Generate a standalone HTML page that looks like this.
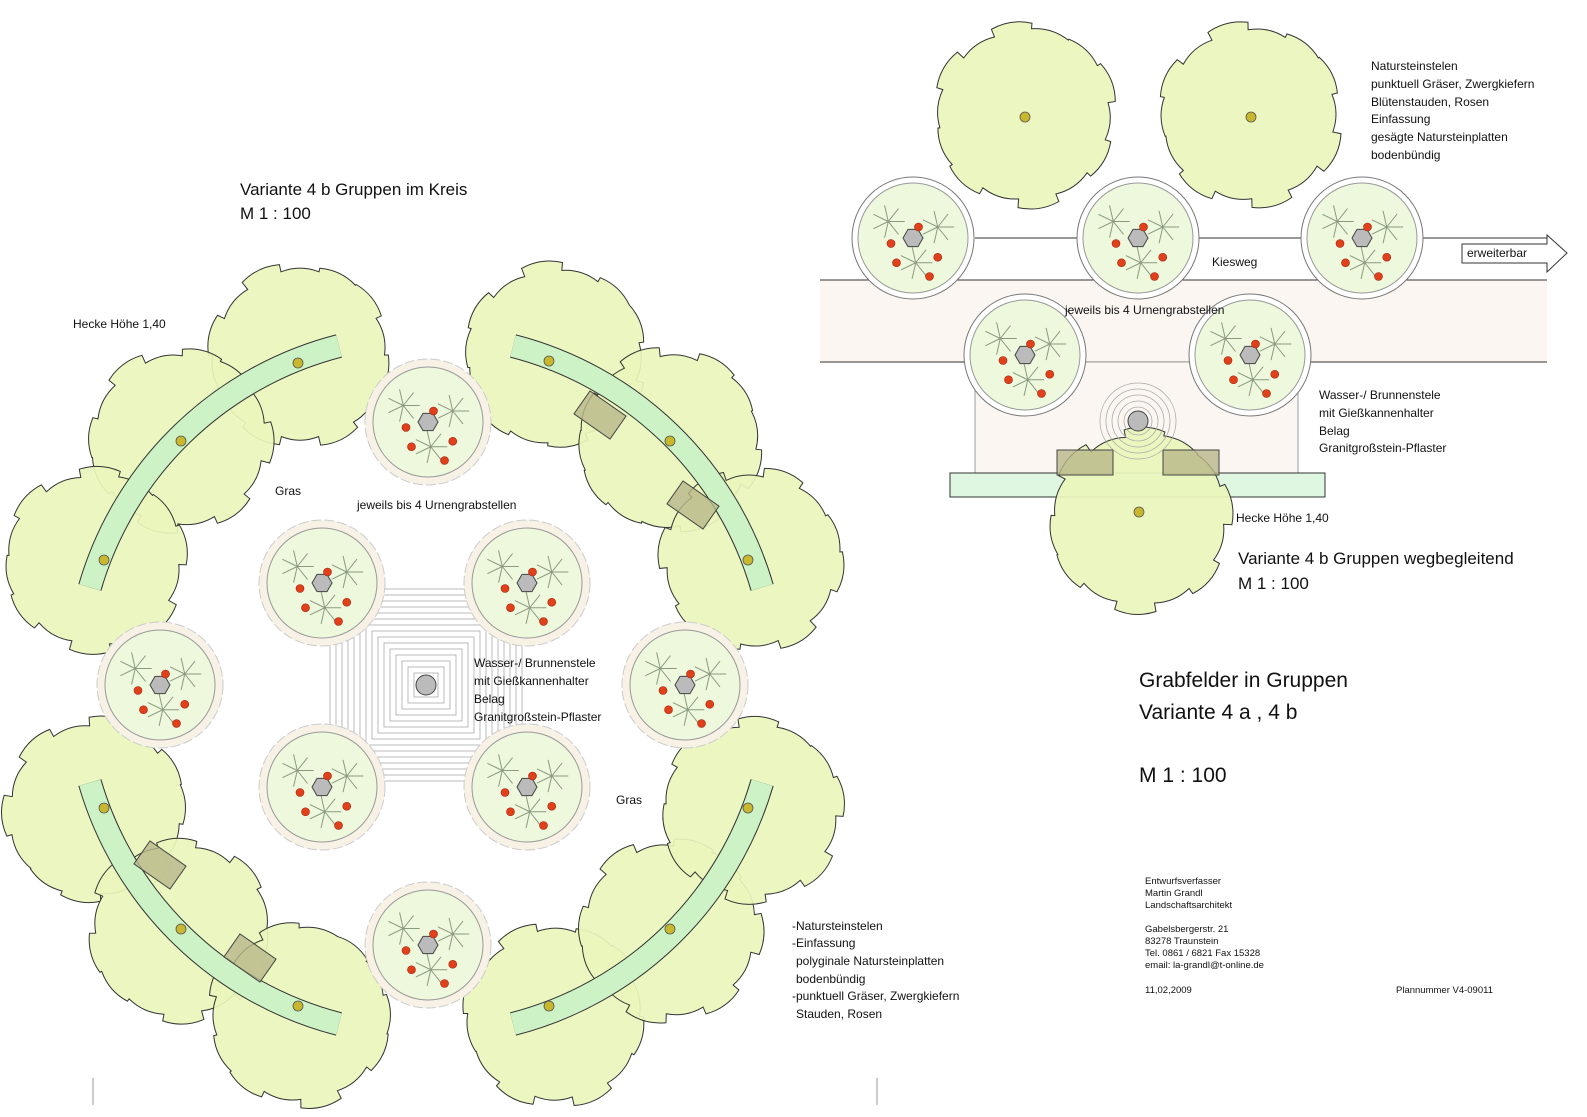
<!DOCTYPE html>
<html><head><meta charset="utf-8"><style>
html,body{margin:0;padding:0;background:#fff;}
svg{display:block;}
text{font-family:"Liberation Sans",sans-serif;fill:#111;}
</style></head><body>
<svg id="s" width="1587" height="1117" viewBox="0 0 1587 1117" xmlns="http://www.w3.org/2000/svg">
<rect width="1587" height="1117" fill="#fff"/>
<rect x="820" y="280" width="727" height="82" fill="#fbf6f2"/>
<line x1="820" y1="280" x2="1547" y2="280" stroke="#333" stroke-width="1"/>
<line x1="820" y1="362" x2="1547" y2="362" stroke="#333" stroke-width="1"/>
<rect x="975" y="362" width="323" height="111" fill="#fbf6f2" stroke="#888" stroke-width="0.8"/>
<line x1="975" y1="238" x2="1547" y2="238" stroke="#333" stroke-width="1"/>
<g id="g"></g>
<text x="240" y="195" font-size="17">Variante 4 b   Gruppen im Kreis</text>
<text x="240" y="219" font-size="17">M  1  :  100</text>
<text x="73" y="328" font-size="12">Hecke  Höhe  1,40</text>
<text x="275" y="495" font-size="12">Gras</text>
<text x="357" y="509" font-size="12">jeweils  bis 4 Urnengrabstellen</text>
<text x="474" y="667" font-size="12">Wasser-/ Brunnenstele</text>
<text x="474" y="685" font-size="12">mit Gießkannenhalter</text>
<text x="474" y="703" font-size="12">Belag</text>
<text x="474" y="721" font-size="12">Granitgroßstein-Pflaster</text>
<text x="616" y="804" font-size="12">Gras</text>
<g font-size="12">
<text x="792" y="930">-Natursteinstelen</text>
<text x="792" y="947">-Einfassung</text>
<text x="796" y="965">polyginale Natursteinplatten</text>
<text x="796" y="983">bodenbündig</text>
<text x="792" y="1000">-punktuell Gräser, Zwergkiefern</text>
<text x="796" y="1018">Stauden, Rosen</text>
</g>
<g font-size="12">
<text x="1371" y="70">Natursteinstelen</text>
<text x="1371" y="88">punktuell Gräser, Zwergkiefern</text>
<text x="1371" y="106">Blütenstauden, Rosen</text>
<text x="1371" y="123">Einfassung</text>
<text x="1371" y="141">gesägte Natursteinplatten</text>
<text x="1371" y="159">bodenbündig</text>
<text x="1212" y="266">Kiesweg</text>
<text x="1065" y="314">jeweils  bis 4 Urnengrabstellen</text>
<text x="1319" y="399">Wasser-/ Brunnenstele</text>
<text x="1319" y="417">mit Gießkannenhalter</text>
<text x="1319" y="435">Belag</text>
<text x="1319" y="452">Granitgroßstein-Pflaster</text>
<text x="1236" y="522">Hecke  Höhe  1,40</text>
</g>
<text x="1238" y="564" font-size="17">Variante  4 b    Gruppen wegbegleitend</text>
<text x="1238" y="589" font-size="17">M  1  :  100</text>
<text x="1139" y="687" font-size="21">Grabfelder   in Gruppen</text>
<text x="1139" y="719" font-size="21">Variante  4 a ,    4 b</text>
<text x="1139" y="782" font-size="21">M  1  :  100</text>
<g font-size="9.5">
<text x="1145" y="884">Entwurfsverfasser</text>
<text x="1145" y="896">Martin Grandl</text>
<text x="1145" y="908">Landschaftsarchitekt</text>
<text x="1145" y="932">Gabelsbergerstr. 21</text>
<text x="1145" y="944">83278 Traunstein</text>
<text x="1145" y="956">Tel. 0861 / 6821 Fax 15328</text>
<text x="1145" y="968">email: la-grandl@t-online.de</text>
<text x="1145" y="993">11,02,2009</text>
<text x="1396" y="993">Plannummer V4-09011</text>
</g>
<path d="M1462,244 H1547 V235 L1567,253 L1547,272 V263 H1462 Z" fill="#fff" stroke="#333"/>
<text x="1467" y="257" font-size="12">erweiterbar</text>
<line x1="93" y1="1078" x2="93" y2="1105" stroke="#999"/>
<line x1="877" y1="1078" x2="877" y2="1105" stroke="#999"/>
</svg>
<script>
var NS="http://www.w3.org/2000/svg",g=document.getElementById('g');
function el(t,a){var e=document.createElementNS(NS,t);for(var k in a)e.setAttribute(k,a[k]);g.appendChild(e);return e;}
function tree(cx,cy,r,seed){var p=[],n=14;for(var i=0;i<n;i++){var a0=i/n*Math.PI*2+seed,a1=(i+1)/n*Math.PI*2+seed;var am=(a0+a1)/2;var rr=r*(0.96+0.05*Math.sin(i*3.7+seed));
p.push((i?'L':'M')+(cx+rr*Math.cos(a0)).toFixed(1)+','+(cy+rr*Math.sin(a0)).toFixed(1));
p.push('Q'+(cx+rr*1.06*Math.cos(am)).toFixed(1)+','+(cy+rr*1.06*Math.sin(am)).toFixed(1)+' '+(cx+rr*Math.cos(a1)).toFixed(1)+','+(cy+rr*Math.sin(a1)).toFixed(1));}
el('path',{d:p.join(' ')+'Z',fill:'#e9f5bb','fill-opacity':'0.92',stroke:'#333','stroke-width':'1'});}
function dot(x,y){el('circle',{cx:x,cy:y,r:5,fill:'#c9b72e',stroke:'#555','stroke-width':'0.8'});}
function star(x,y,s){for(var i=0;i<7;i++){var a=i/7*Math.PI*2;el('line',{x1:x,y1:y,x2:x+s*Math.cos(a),y2:y+s*Math.sin(a),stroke:'#8a9a80','stroke-width':'1'});}}
function plot(cx,cy,r,type){
 if(type==='stone'){el('circle',{cx:cx,cy:cy,r:r+8,fill:'#f7f1e6',stroke:'#ccc','stroke-width':'1','stroke-dasharray':'10 3'});}
 else{el('circle',{cx:cx,cy:cy,r:r+6,fill:'#fff',stroke:'#777','stroke-width':'1'});}
 el('circle',{cx:cx,cy:cy,r:r,fill:'#eef8dc',stroke:'#999','stroke-width':'1'});
 star(cx-r*0.45,cy-r*0.3,r*0.3);star(cx+r*0.45,cy-r*0.2,r*0.3);star(cx+r*0.05,cy+r*0.45,r*0.3);
 el('polygon',{points:[0,1,2,3,4,5].map(function(i){var a=i/6*Math.PI*2;return (cx+10*Math.cos(a))+','+(cy+10*Math.sin(a));}).join(' '),fill:'#bbb',stroke:'#444'});
 [[-0.4,0.1],[-0.3,0.45],[0.45,0.35],[0.3,0.7],[0.1,-0.2]].forEach(function(o){el('circle',{cx:cx+o[0]*r,cy:cy+o[1]*r,r:4,fill:'#e0401a',stroke:'#a02010','stroke-width':'0.6'});});
}
var C=[426,685];
for(var s=12;s<=100;s+=6){el('rect',{x:C[0]-s,y:C[1]-s,width:2*s,height:2*s,fill:s==12?'#fff':'none',stroke:'#aaa','stroke-width':'0.8'});}
el('circle',{cx:426,cy:685,r:10,fill:'#bbb',stroke:'#444'});
[[300,355],[180,440],[95,560],[555,355],[670,440],[752,560],[95,810],[180,930],[300,1015],[555,1015],[670,930],[752,810]].forEach(function(t,i){tree(t[0],t[1],92,i*0.7);});
function arc(a0,a1){var R=350,x0=C[0]+R*Math.cos(a0),y0=C[1]+R*Math.sin(a0),x1=C[0]+R*Math.cos(a1),y1=C[1]+R*Math.sin(a1);
 var d='M'+x0+','+y0+' A'+R+','+R+' 0 0 1 '+x1+','+y1;
 el('path',{d:d,fill:'none',stroke:'#333','stroke-width':'24'});el('path',{d:d,fill:'none',stroke:'#cdf2c6','stroke-width':'22'});}
var P=Math.PI;
arc(P*1.09,P*1.42);arc(P*1.58,P*1.91);arc(P*0.58,P*0.91);arc(P*0.09,P*0.42);
[[298,363],[181,441],[104,560],[549,361],[670,441],[748,560],[104,808],[181,929],[298,1006],[549,1006],[670,929],[748,808]].forEach(function(d){dot(d[0],d[1]);});
[[600,415],[693,505],[160,865],[250,958]].forEach(function(b){el('rect',{x:b[0]-22,y:b[1]-14,width:44,height:28,fill:'#b8b88a','fill-opacity':'0.8',stroke:'#444',transform:'rotate(35 '+b[0]+' '+b[1]+')'});});
[[428,422],[428,945],[160,685],[685,685],[322,583],[527,583],[322,787],[527,787]].forEach(function(p){plot(p[0],p[1],55,'stone');});
tree(1025,115,92,0.3);tree(1250,115,92,1.1);
dot(1025,117);dot(1251,117);
el('rect',{x:950,y:473,width:375,height:24,fill:'#dff7e0',stroke:'#333'});
tree(1140,520,92,0.5);
el('rect',{x:1057,y:450,width:56,height:25,fill:'#b8b88a','fill-opacity':'0.8',stroke:'#444'});
el('rect',{x:1163,y:450,width:56,height:25,fill:'#b8b88a','fill-opacity':'0.8',stroke:'#444'});
for(var r=14;r<=38;r+=6)el('circle',{cx:1138,cy:421,r:r,fill:'none',stroke:'#aaa','stroke-width':'0.8'});
el('circle',{cx:1138,cy:421,r:10,fill:'#bbb',stroke:'#444'});
dot(1139,512);
[[913,238],[1138,238],[1362,238],[1025,355],[1250,355]].forEach(function(p){plot(p[0],p[1],55,'ring');});
</script>
</body></html>
